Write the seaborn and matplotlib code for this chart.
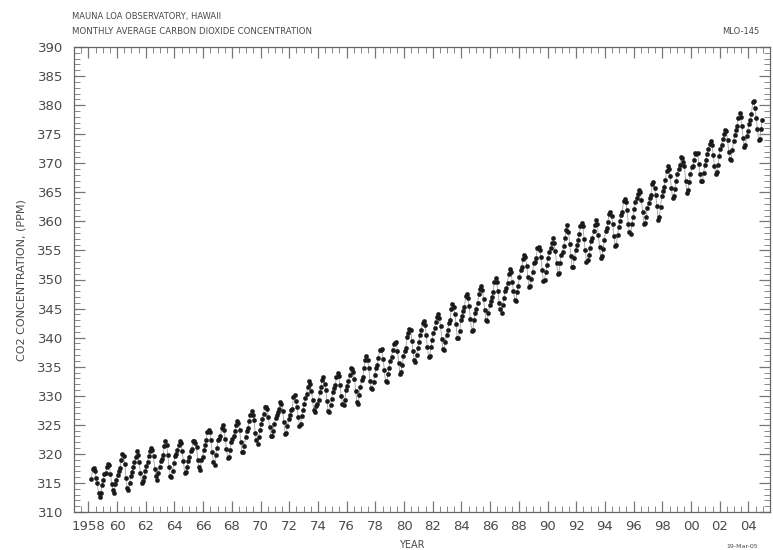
import numpy as np
import pandas as pd
import matplotlib
matplotlib.use("Agg")
import matplotlib.pyplot as plt
import seaborn as sns
from matplotlib.ticker import MultipleLocator, FixedLocator, FixedFormatter

# ---------------- data (monthly mean CO2, ppm, Mauna Loa) ----------------
start_year = 1958
start_month = 3  # first record: March 1958
co2_ppm = [
    315.71, 317.45, 317.50, 317.10, 315.86, 314.93, 313.19, 312.66, 313.34, 314.67,          # 1958 (Mar-Dec)
    315.58, 316.47, 316.65, 317.71, 318.29, 318.16, 316.55, 314.80, 313.84, 313.34, 314.81, 315.59,  # 1959
    316.43, 316.97, 317.58, 319.03, 320.03, 319.59, 318.18, 315.91, 314.16, 313.83, 315.00, 316.19,  # 1960
    316.89, 317.70, 318.54, 319.48, 320.58, 319.78, 318.58, 316.79, 314.99, 315.31, 316.10, 317.01,  # 1961
    317.94, 318.56, 319.69, 320.58, 321.01, 320.61, 319.61, 317.40, 316.26, 315.42, 316.69, 317.69,  # 1962
    318.74, 319.08, 319.86, 321.39, 322.24, 321.47, 319.74, 317.77, 316.21, 315.99, 317.07, 318.36,  # 1963
    319.57, 320.00, 320.70, 321.50, 322.26, 321.89, 320.44, 318.70, 316.70, 316.87, 317.68, 318.71,  # 1964
    319.44, 320.44, 320.89, 322.13, 322.16, 321.87, 321.21, 318.87, 317.81, 317.30, 318.87, 319.42,  # 1965
    320.62, 321.59, 322.39, 323.70, 324.07, 323.75, 322.40, 320.37, 318.64, 318.10, 319.79, 321.03,  # 1966
    322.33, 322.50, 323.04, 324.42, 325.00, 324.09, 322.55, 320.92, 319.26, 319.39, 320.72, 321.96,  # 1967
    322.57, 323.15, 323.89, 325.02, 325.57, 325.36, 324.14, 322.11, 320.33, 320.25, 321.32, 322.90,  # 1968
    324.00, 324.42, 325.64, 326.66, 327.38, 326.70, 325.89, 323.67, 322.38, 321.78, 322.85, 324.12,  # 1969
    325.06, 325.98, 326.93, 328.13, 328.07, 327.66, 326.35, 324.69, 323.10, 323.07, 324.01, 325.13,  # 1970
    326.17, 326.68, 327.18, 327.78, 328.92, 328.57, 327.37, 325.43, 323.36, 323.56, 324.80, 326.01,  # 1971
    326.77, 327.63, 327.75, 329.72, 330.07, 329.09, 328.05, 326.32, 324.84, 325.20, 326.50, 327.55,  # 1972
    328.54, 329.56, 330.30, 331.50, 332.48, 332.07, 330.87, 329.31, 327.51, 327.18, 328.16, 328.64,  # 1973
    329.35, 330.71, 331.48, 332.65, 333.16, 332.06, 330.99, 329.17, 327.41, 327.20, 328.33, 329.50,  # 1974
    330.68, 331.41, 331.85, 333.29, 333.91, 333.40, 331.78, 329.88, 328.57, 328.46, 329.26, 330.97,  # 1975
    331.60, 332.60, 333.57, 334.72, 334.68, 334.17, 332.96, 330.80, 328.98, 328.57, 330.20, 331.58,  # 1976
    332.67, 333.17, 334.86, 336.07, 336.82, 336.12, 334.81, 332.56, 331.30, 331.22, 332.37, 333.49,  # 1977
    334.71, 335.23, 336.54, 337.79, 337.95, 338.00, 336.37, 334.47, 332.46, 332.29, 333.76, 334.80,  # 1978
    336.00, 336.63, 337.93, 338.95, 339.05, 339.27, 337.64, 335.68, 333.77, 334.09, 335.29, 336.76,  # 1979
    337.77, 338.26, 340.10, 340.88, 341.47, 341.31, 339.41, 337.74, 336.10, 335.89, 337.09, 338.21,  # 1980
    339.24, 340.48, 341.38, 342.51, 342.91, 342.25, 340.49, 338.43, 336.69, 336.85, 338.36, 339.61,  # 1981
    340.75, 341.61, 342.70, 343.57, 344.13, 343.35, 342.06, 339.82, 337.97, 337.86, 339.26, 340.49,  # 1982
    341.37, 342.52, 343.10, 344.94, 345.75, 345.32, 343.99, 342.39, 339.86, 339.99, 341.16, 342.99,  # 1983
    343.70, 344.51, 345.28, 347.08, 347.43, 346.79, 345.40, 343.28, 341.07, 341.35, 342.98, 344.22,  # 1984
    344.97, 346.00, 347.43, 348.35, 348.93, 348.25, 346.56, 344.69, 343.09, 342.80, 344.24, 345.56,  # 1985
    346.29, 346.96, 347.86, 349.55, 350.21, 349.54, 347.94, 345.91, 344.86, 344.17, 345.66, 346.90,  # 1986
    348.02, 348.47, 349.42, 350.99, 351.84, 351.25, 349.52, 348.10, 346.44, 346.36, 347.81, 348.96,  # 1987
    350.43, 351.72, 352.22, 353.59, 354.22, 353.79, 352.39, 350.44, 348.72, 348.88, 350.07, 351.34,  # 1988
    352.76, 353.07, 353.68, 355.42, 355.67, 355.13, 353.90, 351.67, 349.80, 349.99, 351.30, 352.53,  # 1989
    353.66, 354.70, 355.39, 356.20, 357.16, 356.22, 354.82, 352.91, 350.96, 351.18, 352.83, 354.21,  # 1990
    354.72, 355.75, 357.16, 358.60, 359.34, 358.24, 356.17, 354.03, 352.16, 352.21, 353.75, 354.99,  # 1991
    355.98, 356.72, 357.81, 359.15, 359.66, 359.25, 357.03, 355.00, 353.01, 353.31, 354.16, 355.40,  # 1992
    356.70, 357.16, 358.38, 359.46, 360.28, 359.60, 357.57, 355.52, 353.70, 353.98, 355.33, 356.80,  # 1993
    358.36, 358.91, 359.97, 361.26, 361.68, 360.95, 359.55, 357.49, 355.84, 356.00, 357.59, 359.05,  # 1994
    359.98, 361.03, 361.66, 363.48, 363.82, 363.30, 361.94, 359.50, 358.11, 357.80, 359.61, 360.74,  # 1995
    362.09, 363.29, 364.06, 364.76, 365.45, 365.01, 363.70, 361.54, 359.51, 359.65, 360.80, 362.38,  # 1996
    363.23, 364.06, 364.61, 366.40, 366.84, 365.68, 364.52, 362.57, 360.24, 360.83, 362.49, 364.34,  # 1997
    365.18, 365.98, 367.13, 368.61, 369.49, 368.95, 367.74, 365.79, 364.01, 364.35, 365.52, 366.93,  # 1998
    368.18, 369.07, 369.68, 370.99, 370.96, 370.30, 369.45, 366.90, 364.81, 365.37, 366.72, 368.10,  # 1999
    369.29, 369.54, 370.60, 371.82, 371.58, 371.70, 369.86, 368.13, 367.00, 367.03, 368.37, 369.67,  # 2000
    370.59, 371.51, 372.43, 373.37, 373.85, 373.22, 371.50, 369.61, 368.18, 368.45, 369.76, 371.24,  # 2001
    372.53, 373.20, 374.12, 375.02, 375.76, 375.52, 374.01, 371.85, 370.75, 370.55, 372.25, 373.79,  # 2002
    374.88, 375.64, 376.45, 377.73, 378.60, 377.88, 376.34, 374.41, 372.72, 373.08, 374.68, 375.63,  # 2003
    376.79, 377.37, 378.41, 380.52, 380.63, 379.57, 377.79, 375.86, 374.06, 374.24, 375.86, 377.48,  # 2004
]

x_tick_years = list(range(1958, 2005, 2))
x_tick_labels = ["1958"] + [f"{y % 100:02d}" for y in range(1960, 2005, 2)]
y_ticks = list(range(310, 391, 5))

title_line1 = "MAUNA LOA OBSERVATORY, HAWAII"
title_line2 = "MONTHLY AVERAGE CARBON DIOXIDE CONCENTRATION"
station_code = "MLO-145"
y_label = "CO2 CONCENTRATION, (PPM)"
x_label = "YEAR"
date_stamp = "19-Mar-05"

# ---------------- build frame ----------------
month_index = np.arange(len(co2_ppm)) + (start_month - 1)
dec_year = start_year + (month_index + 0.5) / 12.0
df = pd.DataFrame({"year": dec_year, "co2": co2_ppm})

# ---------------- figure ----------------
sns.set_theme(style="white")
plt.rcParams["font.family"] = ["DejaVu Sans"]
txt_color = "#4a4a4a"

W, H = 773, 550
fig = plt.figure(figsize=(W / 100, H / 100), dpi=100)
L, R, B, T = 74, 770, 512, 47
ax = fig.add_axes([L / W, 1 - B / H, (R - L) / W, (B - T) / H])

sns.lineplot(data=df, x="year", y="co2", ax=ax, color="#a0a0a0", linewidth=0.6,
             marker="o", markersize=3.2, markerfacecolor="#1a1a1a",
             markeredgecolor="#1a1a1a", markeredgewidth=0.2, estimator=None,
             sort=False)

ax.set_xlim(1957.0, 2005.5)
ax.set_ylim(310, 390)

ax.xaxis.set_major_locator(FixedLocator(x_tick_years))
ax.xaxis.set_major_formatter(FixedFormatter(x_tick_labels))
ax.xaxis.set_minor_locator(MultipleLocator(0.5))
ax.yaxis.set_major_locator(FixedLocator(y_ticks))
ax.yaxis.set_minor_locator(MultipleLocator(1))

ax.tick_params(axis="both", which="major", direction="in", length=8, width=0.9,
               color="#777777", labelsize=9.5, labelcolor=txt_color,
               top=True, right=True, bottom=True, left=True)
ax.tick_params(axis="both", which="minor", direction="in", length=4, width=0.7,
               color="#888888", top=True, right=True, bottom=True, left=True)
ax.tick_params(axis="x", which="major", pad=6)
ax.tick_params(axis="y", which="major", pad=8)

for s in ax.spines.values():
    s.set_visible(True)
    s.set_color("#666666")
    s.set_linewidth(0.9)

ax.set_xlabel("")
ax.set_ylabel("")
ax.grid(False)

fig.text(22 / W, 1 - 280 / H, y_label, rotation=90, ha="center", va="center",
         fontsize=8, color=txt_color)
fig.text(412 / W, 1 - 545 / H, x_label, ha="center", va="center",
         fontsize=7, color=txt_color)
fig.text(72 / W, 1 - 17 / H, title_line1, ha="left", va="center",
         fontsize=6, color=txt_color)
fig.text(72 / W, 1 - 32 / H, title_line2, ha="left", va="center",
         fontsize=6.2, color=txt_color)
fig.text(722 / W, 1 - 32 / H, station_code, ha="left", va="center",
         fontsize=6, color=txt_color)
fig.text(726 / W, 1 - 546 / H, date_stamp, ha="left", va="center",
         fontsize=4.5, color=txt_color)

fig.savefig("out.png", dpi=100, facecolor="white")
